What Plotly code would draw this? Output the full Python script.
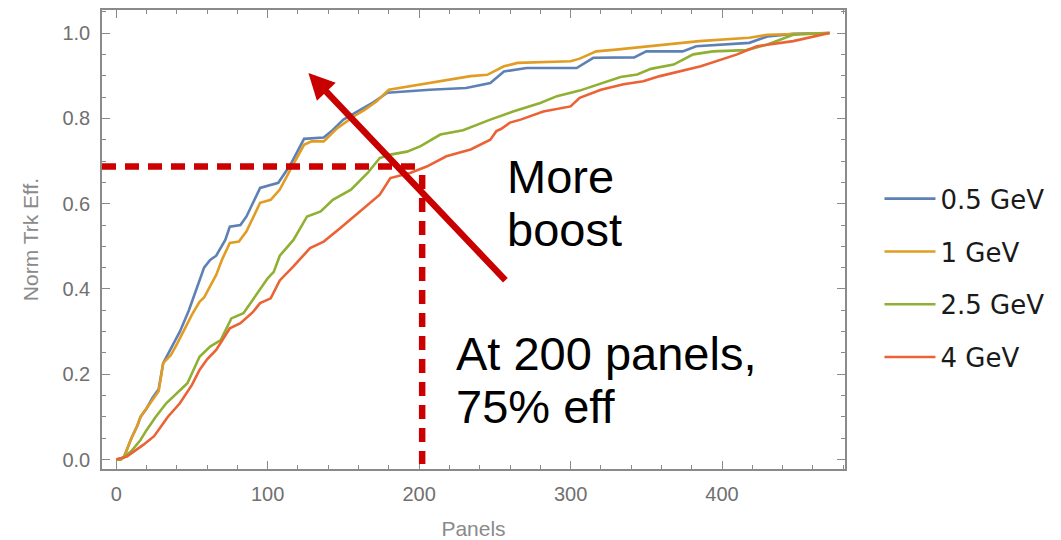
import plotly.graph_objects as go

# ---------------- data ----------------
series_names = ["0.5 GeV", "1 GeV", "2.5 GeV", "4 GeV"]
series_colors = ["#5E81B5", "#E19C24", "#8FB032", "#EB6235"]

panels_05 = [0, 5, 10, 14, 16, 20, 24, 28, 31, 36, 42, 48, 53, 58, 62, 66, 72, 75, 82, 86, 95,
             102, 107, 115, 124, 137, 143, 150, 160, 170, 179, 187, 207, 231, 247, 256, 271,
             304, 315, 342, 350, 374, 383, 418, 430, 447, 471]
eff_05 = [0, 0.005, 0.05, 0.08, 0.10, 0.12, 0.145, 0.165, 0.226, 0.26, 0.30, 0.35, 0.40, 0.45,
          0.468, 0.478, 0.515, 0.546, 0.55, 0.57, 0.637, 0.644, 0.649, 0.691, 0.752, 0.755,
          0.773, 0.797, 0.818, 0.838, 0.86, 0.862, 0.867, 0.871, 0.883, 0.91, 0.918, 0.918,
          0.942, 0.943, 0.957, 0.957, 0.969, 0.977, 0.992, 0.998, 1.0]

panels_1 = [0, 5, 10, 14, 16, 20, 24, 28, 31, 36, 40, 45, 50, 55, 58, 66, 70, 75, 81, 86, 95,
            102, 108, 115, 124, 129, 137, 146, 157, 164, 172, 180, 194, 214, 234, 245, 256,
            265, 300, 306, 317, 330, 352, 385, 418, 430, 471]
eff_1 = [0, 0.005, 0.05, 0.08, 0.10, 0.12, 0.14, 0.16, 0.226, 0.245, 0.27, 0.305, 0.34, 0.37,
         0.38, 0.433, 0.47, 0.508, 0.511, 0.535, 0.602, 0.609, 0.633, 0.68, 0.738, 0.746,
         0.746, 0.777, 0.805, 0.82, 0.84, 0.867, 0.875, 0.887, 0.899, 0.902, 0.922, 0.93,
         0.934, 0.94, 0.957, 0.961, 0.969, 0.981, 0.989, 0.996, 1.0]

panels_25 = [0, 3, 10, 16, 20, 26, 33, 40, 47, 55, 62, 69, 76, 84, 93, 100, 104, 108, 117, 126,
             135, 143, 155, 160, 166, 174, 181, 192, 201, 214, 229, 247, 262, 280, 291, 306,
             322, 333, 344, 353, 368, 381, 394, 416, 430, 447, 471]
eff_25 = [0, 0.0, 0.02, 0.046, 0.069, 0.10, 0.132, 0.155, 0.179, 0.241, 0.265, 0.28, 0.331,
          0.343, 0.39, 0.425, 0.44, 0.478, 0.515, 0.57, 0.582, 0.609, 0.633, 0.65, 0.672,
          0.707, 0.715, 0.722, 0.735, 0.762, 0.772, 0.797, 0.816, 0.836, 0.852, 0.865, 0.885,
          0.897, 0.903, 0.916, 0.926, 0.95, 0.957, 0.96, 0.973, 0.996, 1.0]

panels_4 = [0, 7, 12, 18, 25, 30, 34, 42, 50, 55, 60, 66, 75, 82, 90, 95, 102, 108, 117, 128,
            137, 148, 161, 174, 181, 194, 205, 218, 234, 247, 251, 254, 260, 267, 282, 300,
            306, 320, 335, 348, 359, 386, 410, 423, 447, 471]
eff_4 = [0, 0.007, 0.02, 0.035, 0.055, 0.08, 0.10, 0.132, 0.175, 0.21, 0.235, 0.257, 0.308,
         0.32, 0.345, 0.367, 0.378, 0.42, 0.453, 0.496, 0.511, 0.543, 0.582, 0.621, 0.66,
         0.672, 0.687, 0.711, 0.727, 0.75, 0.77, 0.775, 0.79, 0.797, 0.816, 0.828, 0.848,
         0.867, 0.88, 0.887, 0.899, 0.922, 0.95, 0.969, 0.981, 1.0]

# annotation guide values
guide_panels = 202
guide_eff = 0.687
arrow_tail = (257.9, 0.417)
arrow_tip = (126.9, 0.9066)

x_range = [-9.4, 481.2]
y_range = [-0.022, 1.054]

# ---------------- figure ----------------
fig = go.Figure()
xs = [panels_05, panels_1, panels_25, panels_4]
ys = [eff_05, eff_1, eff_25, eff_4]
for name, color, xv, yv in zip(series_names, series_colors, xs, ys):
    fig.add_trace(go.Scatter(x=xv, y=yv, mode="lines", name=name, legendgroup=name,
                             line=dict(color=color, width=2.6)))

red = "#CC0000"
# dashed guides
fig.add_shape(type="line", x0=x_range[0], x1=guide_panels - 4.5, y0=guide_eff, y1=guide_eff,
              line=dict(color=red, width=6.5, dash="14px,9px"))
fig.add_shape(type="line", x0=guide_panels, x1=guide_panels, y0=guide_eff - 0.02, y1=y_range[0] + 0.012,
              line=dict(color=red, width=6.5, dash="14px,9px"))

# arrow
fig.add_annotation(x=arrow_tip[0], y=arrow_tip[1], ax=arrow_tail[0], ay=arrow_tail[1],
                   xref="x", yref="y", axref="x", ayref="y", text="", showarrow=True,
                   arrowhead=2, arrowsize=0.8, arrowwidth=6.5, arrowcolor="#C80000")

txt_font = dict(family="Liberation Sans, Arial, sans-serif", size=47, color="#000000")
for t, xx, yy in [("More", 256.5, 0.664), ("boost", 256.5, 0.540),
                  ("At 200 panels,", 223.0, 0.248), ("75% eff", 223.0, 0.124)]:
    fig.add_annotation(x=xx, y=yy, xref="x", yref="y", text=t, showarrow=False,
                       xanchor="left", yanchor="middle", font=txt_font)

axis_common = dict(
    showgrid=False, zeroline=False, showline=True, linecolor="#8a8a8a", linewidth=1.5,
    ticks="inside", ticklen=8, tickwidth=1.3, tickcolor="#8a8a8a", mirror="ticks",
    automargin=False,
    tickfont=dict(family="Liberation Sans, Arial, sans-serif", size=20, color="#707070"),
)
fig.update_xaxes(range=x_range, dtick=100, tick0=0,
                 minor=dict(dtick=20, ticks="inside", ticklen=4, tickcolor="#8a8a8a", tickwidth=1.2),
                 title=dict(text="Panels", standoff=33,
                            font=dict(family="Liberation Sans, Arial, sans-serif", size=21, color="#8a8a8a")),
                 ticklabelstandoff=6, **axis_common)
fig.update_yaxes(range=y_range, dtick=0.2, tick0=0, tickformat=".1f",
                 minor=dict(dtick=0.05, ticks="inside", ticklen=4, tickcolor="#8a8a8a", tickwidth=1.2),
                 title=dict(text="Norm Trk Eff.", standoff=18,
                            font=dict(family="Liberation Sans, Arial, sans-serif", size=21, color="#8a8a8a")),
                 ticklabelstandoff=6, **axis_common)

fig.update_layout(
    width=1061, height=540,
    margin=dict(l=102, r=216, t=10, b=71),
    paper_bgcolor="white", plot_bgcolor="white",
    legend=dict(x=1.0464, xanchor="left", y=0.64, yanchor="top", tracegroupgap=16,
                itemwidth=51, bgcolor="rgba(0,0,0,0)",
                font=dict(family="DejaVu Sans, sans-serif", size=26, color="#1a1a1a")),
    showlegend=True,
)

fig.write_html("out.html")
